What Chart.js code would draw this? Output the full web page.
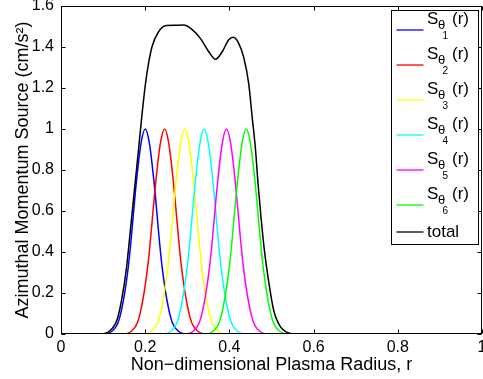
<!DOCTYPE html>
<html>
<head>
<meta charset="utf-8">
<script src="https://cdn.jsdelivr.net/npm/chart.js@4.4.0/dist/chart.umd.min.js"></script>
<style>
  body { margin: 0; background: #fff; }
  #wrap { width: 483px; height: 379px; }
</style>
</head>
<body>
<div id="wrap"><canvas id="chart"></canvas></div>
<script>
// Values: radius samples (r) and source values for each curve
const r1 = [0, 0.10, 0.12, 0.14, 0.16, 0.18, 0.19, 0.20, 0.21, 0.22, 0.24, 0.26, 0.28, 0.30, 1];
const s1 = [0, 0, 0.012, 0.085, 0.33, 0.76, 0.93, 1, 0.93, 0.76, 0.33, 0.085, 0.012, 0, 0];

const r2 = [0, 0.146, 0.166, 0.186, 0.206, 0.226, 0.236, 0.246, 0.256, 0.266, 0.286, 0.306, 0.326, 0.346, 1];
const s2 = [0, 0, 0.012, 0.085, 0.33, 0.76, 0.93, 1, 0.93, 0.76, 0.33, 0.085, 0.012, 0, 0];

const r3 = [0, 0.194, 0.214, 0.234, 0.254, 0.274, 0.284, 0.294, 0.304, 0.314, 0.334, 0.354, 0.374, 0.394, 1];
const s3 = [0, 0, 0.012, 0.085, 0.33, 0.76, 0.93, 1, 0.93, 0.76, 0.33, 0.085, 0.012, 0, 0];

const r4 = [0, 0.24, 0.26, 0.28, 0.30, 0.32, 0.33, 0.34, 0.35, 0.36, 0.38, 0.40, 0.42, 0.44, 1];
const s4 = [0, 0, 0.012, 0.085, 0.33, 0.76, 0.93, 1, 0.93, 0.76, 0.33, 0.085, 0.012, 0, 0];

const r5 = [0, 0.293, 0.313, 0.333, 0.353, 0.373, 0.383, 0.393, 0.403, 0.413, 0.433, 0.453, 0.473, 0.493, 1];
const s5 = [0, 0, 0.012, 0.085, 0.33, 0.76, 0.93, 1, 0.93, 0.76, 0.33, 0.085, 0.012, 0, 0];

const r6 = [0, 0.34, 0.36, 0.38, 0.40, 0.42, 0.43, 0.44, 0.45, 0.46, 0.48, 0.50, 0.52, 0.54, 1];
const s6 = [0, 0, 0.012, 0.085, 0.33, 0.76, 0.93, 1, 0.93, 0.76, 0.33, 0.085, 0.012, 0, 0];

const rTotal = [0, 0.09, 0.113, 0.133, 0.144, 0.156, 0.164, 0.172, 0.180, 0.188, 0.196, 0.204, 0.216, 0.232,
  0.250, 0.270, 0.291, 0.311, 0.331, 0.351, 0.367, 0.383, 0.398, 0.409, 0.422, 0.434, 0.446, 0.454,
  0.462, 0.468, 0.475, 0.483, 0.494, 0.505, 0.521, 0.545, 0.56, 1];
const sTotal = [0, 0, 0.011, 0.068, 0.166, 0.33, 0.49, 0.654, 0.816, 0.98, 1.14, 1.27, 1.40, 1.475,
  1.505, 1.506, 1.507, 1.486, 1.442, 1.377, 1.340, 1.377, 1.434, 1.447, 1.418, 1.35, 1.22, 1.06,
  0.90, 0.735, 0.572, 0.41, 0.247, 0.117, 0.036, 0.003, 0, 0];

const legendSubs = ['1', '2', '3', '4', '5', '6'];
const totalLabel = 'total';
const seriesColors = ['#0000ff', '#ff0000', '#ffff00', '#00ffff', '#ff00ff', '#00ff00'];

const FONT = '"Liberation Sans", Arial, Helvetica, sans-serif';

function pts(rs, vs) {
  return rs.map((r, i) => ({ x: r, y: vs[i] }));
}

// "1" instead of "1.0", like MATLAB
function tickText(v) {
  return String(Number(v.toFixed(1)));
}

const gaussR = [r1, r2, r3, r4, r5, r6];
const gaussS = [s1, s2, s3, s4, s5, s6];

const datasets = gaussR.map((rs, i) => ({
  label: 'S' + legendSubs[i],
  data: pts(rs, gaussS[i]),
  borderColor: seriesColors[i],
  borderWidth: 1.5,
  pointRadius: 0,
  fill: false,
  cubicInterpolationMode: 'monotone',
  order: 6 - i
}));
datasets.push({
  label: totalLabel,
  data: pts(rTotal, sTotal),
  borderColor: '#000000',
  borderWidth: 1.5,
  pointRadius: 0,
  fill: false,
  cubicInterpolationMode: 'monotone',
  order: 0
});

// MATLAB style box with inward tick marks
const framePlugin = {
  id: 'frame',
  afterDatasetsDraw(chart) {
    const { ctx, chartArea: a, scales: { x, y } } = chart;
    const L = Math.round(a.left) + 0.5, R = Math.round(a.right) - 0.5;
    const T = Math.round(a.top) + 0.5, B = Math.round(a.bottom) - 0.5;
    ctx.save();
    ctx.strokeStyle = '#000';
    ctx.lineWidth = 1;
    ctx.beginPath();
    x.ticks.forEach(t => {
      const px = Math.round(x.getPixelForValue(t.value)) + 0.5;
      ctx.moveTo(px, B); ctx.lineTo(px, B - 4);
      ctx.moveTo(px, T); ctx.lineTo(px, T + 4);
    });
    y.ticks.forEach(t => {
      const py = Math.round(y.getPixelForValue(t.value)) + 0.5;
      ctx.moveTo(L, py); ctx.lineTo(L + 4, py);
      ctx.moveTo(R, py); ctx.lineTo(R - 4, py);
    });
    ctx.stroke();
    ctx.strokeRect(L, T, R - L, B - T);
    ctx.restore();
  }
};

// legend box with subscripted labels
const legendPlugin = {
  id: 'matlabLegend',
  afterDraw(chart) {
    const { ctx, chartArea: a } = chart;
    const bx = Math.round(a.right) - 90.5, by = Math.round(a.top) + 4.5;
    const bw = 87, bh = 234;
    ctx.save();
    ctx.fillStyle = '#fff';
    ctx.fillRect(bx, by, bw, bh);
    ctx.strokeStyle = '#000';
    ctx.lineWidth = 1;
    ctx.strokeRect(bx, by, bw, bh);
    const lx0 = bx + 5, lx1 = bx + 32, tx = bx + 35.5;
    chart.data.datasets.forEach((ds, i) => {
      const isTotal = i === legendSubs.length;
      const ly = isTotal ? by + 221.5 : by + 19.5 + i * 35;
      ctx.strokeStyle = ds.borderColor;
      ctx.lineWidth = 1.3;
      ctx.beginPath();
      ctx.moveTo(lx0, ly); ctx.lineTo(lx1, ly);
      ctx.stroke();
      ctx.fillStyle = '#000';
      if (isTotal) {
        ctx.font = '17px ' + FONT;
        ctx.textBaseline = 'middle';
        ctx.fillText(totalLabel, tx, ly + 0.5);
      } else {
        ctx.textBaseline = 'alphabetic';
        ctx.font = '17px ' + FONT;
        ctx.fillText('S', tx, ly - 6);
        ctx.font = '13px ' + FONT;
        ctx.fillText('\u03b8', tx + 11, ly - 1.5);
        ctx.font = '10px ' + FONT;
        ctx.fillText(legendSubs[i], tx + 15.5, ly + 8.5);
        ctx.font = '17px ' + FONT;
        ctx.fillText('(r)', tx + 25, ly - 6);
      }
    });
    ctx.restore();
  }
};

new Chart(document.getElementById('chart'), {
  type: 'line',
  data: { datasets },
  options: {
    responsive: true,
    maintainAspectRatio: false,
    animation: false,
    layout: { padding: { top: 6, right: 1, left: 0, bottom: 0 } },
    plugins: { legend: { display: false }, tooltip: { enabled: false } },
    scales: {
      x: {
        type: 'linear',
        min: 0, max: 1,
        grid: { display: false, drawTicks: false },
        border: { display: false },
        ticks: {
          stepSize: 0.2, color: '#000', padding: 4, maxRotation: 0,
          font: { family: FONT, size: 16 },
          callback: v => tickText(v)
        },
        title: {
          display: true,
          text: 'Non\u2212dimensional Plasma Radius, r',
          color: '#000',
          font: { family: FONT, size: 18 },
          padding: { top: 0, bottom: 3 }
        },
        afterFit(scale) {
          scale.height = 45;
          scale.paddingLeft = 0;
          scale.paddingRight = 0;
        }
      },
      y: {
        type: 'linear',
        min: 0, max: 1.6,
        grid: { display: false, drawTicks: false },
        border: { display: false },
        ticks: {
          stepSize: 0.2, color: '#000', padding: 7,
          font: { family: FONT, size: 16 },
          callback: v => tickText(v)
        },
        title: {
          display: true,
          text: 'Azimuthal Momentum Source (cm/s\u00b2)',
          color: '#000',
          font: { family: FONT, size: 18 },
          padding: { top: 12, bottom: 0 }
        },
        afterFit(scale) {
          scale.width = 61;
          scale.paddingTop = 0;
          scale.paddingBottom = 0;
        }
      }
    }
  },
  plugins: [framePlugin, legendPlugin]
});
</script>
</body>
</html>
